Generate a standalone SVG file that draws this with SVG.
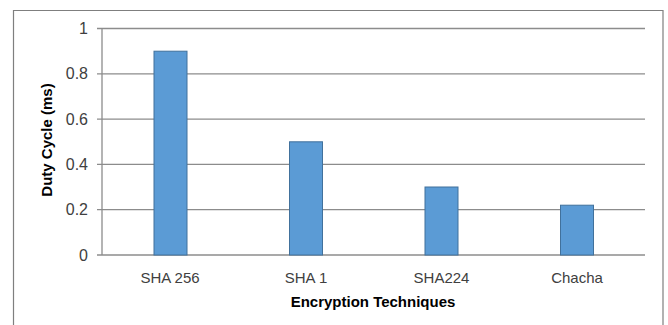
<svg xmlns="http://www.w3.org/2000/svg" width="668" height="325" viewBox="0 0 668 325">
<style>
.grid{stroke:#8c8c8c;stroke-width:1.3}
.bar{fill:#5b9bd5;stroke:#41719c;stroke-width:1}
.tick{font-family:"Liberation Sans",Arial,sans-serif;font-size:16px;fill:#404040;text-anchor:end}
.cat{font-family:"Liberation Sans",Arial,sans-serif;font-size:15px;fill:#404040;text-anchor:middle}
.title{font-family:"Liberation Sans",Arial,sans-serif;font-size:15px;font-weight:bold;fill:#000;text-anchor:middle}
</style>
<rect x="0" y="0" width="668" height="325" fill="#fff"/>
<path d="M13.5 326 V10.5 H663 V326" fill="none" stroke="#7f7f7f" stroke-width="1.2"/>
<g id="axes">
<line class="grid" x1="97" y1="28.5" x2="645" y2="28.5"/>
<line class="grid" x1="97" y1="73.8" x2="645" y2="73.8"/>
<line class="grid" x1="97" y1="119.1" x2="645" y2="119.1"/>
<line class="grid" x1="97" y1="164.4" x2="645" y2="164.4"/>
<line class="grid" x1="97" y1="209.7" x2="645" y2="209.7"/>
<line class="grid" x1="97" y1="255" x2="645" y2="255"/>
<line class="grid" x1="102" y1="28.5" x2="102" y2="255"/>
<text class="tick" x="88" y="34">1</text>
<text class="tick" x="88" y="79.3">0.8</text>
<text class="tick" x="88" y="124.6">0.6</text>
<text class="tick" x="88" y="169.9">0.4</text>
<text class="tick" x="88" y="215.2">0.2</text>
<text class="tick" x="88" y="260.5">0</text>
</g>
<g id="bar-sha256"><rect class="bar" x="154" y="51.2" width="33" height="203.8"/><text class="cat" x="170" y="282.5">SHA 256</text></g>
<g id="bar-sha1"><rect class="bar" x="289.5" y="141.8" width="33" height="113.2"/><text class="cat" x="306" y="282.5">SHA 1</text></g>
<g id="bar-sha224"><rect class="bar" x="425" y="187" width="33" height="68"/><text class="cat" x="441.5" y="282.5">SHA224</text></g>
<g id="bar-chacha"><rect class="bar" x="560.5" y="205.2" width="33" height="49.8"/><text class="cat" x="577" y="282.5">Chacha</text></g>
<text class="title" x="373" y="307">Encryption Techniques</text>
<text class="title" transform="translate(52 140) rotate(-90)">Duty Cycle (ms)</text>
</svg>
